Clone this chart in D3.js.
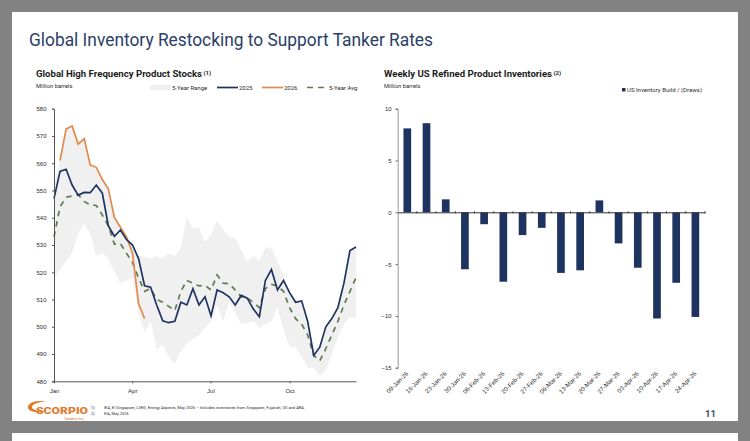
<!DOCTYPE html>
<html>
<head>
<meta charset="utf-8">
<script src="https://d3js.org/d3.v7.min.js"></script>
<style>
  html, body { margin: 0; padding: 0; background: #828282; }
  svg { display: block; font-family: Roboto, "Noto Sans", sans-serif; }
</style>
</head>
<body>
<svg id="slide" width="750" height="441"></svg>
<script>
// weekly stock series, index 0 = first week of Jan
const stocks2025 = [547, 557, 557.8, 552, 548.3, 549.3, 549.2, 552, 549, 537, 533.2, 535.5, 532, 530, 525, 515, 514.5, 508, 502.2, 501.5, 502, 509, 508, 514, 508, 511, 504, 513.5, 512.5, 511, 508, 511.5, 510.5, 506.5, 503.7, 517, 521, 513.5, 517, 512.5, 509, 509.5, 502, 489.5, 492.5, 500, 503, 507, 516, 528, 529.3];
const stocks2026 = [null, 561, 572.5, 573.7, 567, 569, 559.3, 558.5, 554, 550.5, 540, 536.5, 533, 527, 508.5, 503];
const stocksAvg = [533, 544, 547.5, 548, 548.5, 546, 544.7, 544.5, 541, 537, 530.3, 530.5, 527, 523.5, 518, 513, 514, 510, 509, 507.5, 506, 513, 517, 516, 515, 515.2, 513.5, 519, 516, 515.8, 513.5, 511, 510.5, 509, 507, 514, 515.5, 515, 513, 507, 503, 501, 497, 489.5, 487.5, 492, 497, 502, 508, 513, 518];
const rangeLow = [518, 521, 524, 527, 534, 538, 534, 526, 527, 525, 520, 516, 517, 518, 505, 498, 502, 491.6, 493.5, 489, 486.5, 491, 494, 495.5, 497, 499.5, 502, 508, 502, 509, 505, 501, 501.5, 502, 499.5, 501, 502, 507, 499, 492.7, 492.5, 489, 485, 485, 482, 484, 490, 496, 501, 503.5, 503];
const rangeHigh = [552, 561, 572, 573.5, 567, 569, 559, 558, 554, 550, 540, 536, 533, 530, 526, 525.5, 525, 526, 525, 527, 526, 529, 540, 536, 536.5, 531, 534, 539, 535.5, 533, 532.5, 528, 524, 526, 524, 529, 529, 524, 519, 513, 510, 509.5, 503, 492, 493, 500, 503, 507, 516, 528, 529.5];
const monthLabels = ['Jan', 'Apr', 'Jul', 'Oct'];
const monthWeeks = [0, 12.95, 25.9, 39];
const stockTicks = [480, 490, 500, 510, 520, 530, 540, 550, 560, 570, 580];

const weekDates = ['09-Jan-26', '16-Jan-26', '23-Jan-26', '30-Jan-26', '06-Feb-26', '13-Feb-26', '20-Feb-26', '27-Feb-26', '06-Mar-26', '13-Mar-26', '20-Mar-26', '27-Mar-26', '03-Apr-26', '10-Apr-26', '17-Apr-26', '24-Apr-26'];
const usBuilds = [8.1, 8.6, 1.25, -5.5, -1.15, -6.7, -2.2, -1.5, -5.85, -5.6, 1.15, -3.0, -5.35, -10.25, -6.8, -10.1];
const buildTicks = [-15, -10, -5, 0, 5, 10];

const navy = '#1f3361', orange = '#e08a4f', green = '#5f7a4f', band = '#f0f0f1', ink = '#2b2b2b', axisGrey = '#555';

const svg = d3.select('#slide');

// slide panels
svg.append('rect').attr('x', 12).attr('y', 12).attr('width', 726).attr('height', 409).attr('fill', '#fff');
svg.append('rect').attr('x', 12).attr('y', 433).attr('width', 726).attr('height', 8).attr('fill', '#fff');

svg.append('text').attr('x', 29).attr('y', 46).attr('font-size', 19).attr('fill', '#2a4068')
   .attr('textLength', 404).attr('lengthAdjust', 'spacingAndGlyphs')
   .text('Global Inventory Restocking to Support Tanker Rates');

function heading(x, label, note, width) {
    const t = svg.append('text').attr('x', x).attr('y', 77).attr('font-size', 9.3).attr('font-weight', 700).attr('fill', '#1c1c1c').text(label);
    t.attr('textLength', width).attr('lengthAdjust', 'spacingAndGlyphs');
    svg.append('text').attr('x', x + width + 1.5).attr('y', 74.5).attr('font-size', 6).attr('font-weight', 700).attr('fill', '#1c1c1c').text(note);
}
heading(36, 'Global High Frequency Product Stocks', '(1)', 166);
heading(384, 'Weekly US Refined Product Inventories', '(2)', 168);
svg.append('text').attr('x', 36).attr('y', 87.5).attr('font-size', 5.8).attr('fill', ink).text('Million barrels');
svg.append('text').attr('x', 384).attr('y', 87.5).attr('font-size', 5.8).attr('fill', ink).text('Million barrels');

// left chart
const xWeek = d3.scaleLinear().domain([0, 50]).range([54, 356]);
const yStock = d3.scaleLinear().domain([480, 580]).range([381.3, 108.7]);

svg.append('path')
   .datum(rangeLow.map((d, i) => [i, d, rangeHigh[i]]))
   .attr('fill', band)
   .attr('d', d3.area().x(d => xWeek(d[0])).y0(d => yStock(d[1])).y1(d => yStock(d[2])));

const stockLine = d3.line().defined(d => d !== null).x((d, i) => xWeek(i)).y(d => yStock(d));
svg.append('path').datum(stocksAvg).attr('fill', 'none').attr('stroke', green).attr('stroke-width', 1.7).attr('stroke-dasharray', '5.5,5').attr('d', stockLine);
svg.append('path').datum(stocks2026).attr('fill', 'none').attr('stroke', orange).attr('stroke-width', 1.7).attr('d', stockLine);
svg.append('path').datum(stocks2025).attr('fill', 'none').attr('stroke', navy).attr('stroke-width', 1.7).attr('d', stockLine);

function styleAxis(g) {
    g.select('.domain').attr('stroke', axisGrey).attr('stroke-width', 1);
    g.selectAll('.tick line').attr('stroke', axisGrey);
    g.selectAll('.tick text').attr('fill', ink).attr('font-size', 6);
}

svg.append('g').attr('transform', `translate(54,0)`)
   .call(d3.axisLeft(yStock).tickValues(stockTicks).tickSize(2).tickSizeOuter(2).tickPadding(5.5))
   .call(styleAxis);
svg.append('g').attr('transform', `translate(0,381.3)`)
   .call(d3.axisBottom(xWeek).tickValues(monthWeeks).tickFormat((d, i) => monthLabels[i]).tickSize(2).tickSizeOuter(0).tickPadding(5.5))
   .call(styleAxis);

// left legend
const legendY = 87.5;
svg.append('rect').attr('x', 150).attr('y', legendY - 2.5).attr('width', 21).attr('height', 5).attr('fill', band);
svg.append('text').attr('x', 172).attr('y', legendY + 2).attr('font-size', 6).attr('fill', ink).text('5-Year Range');
[[217, 238, navy, null, '2025', 239], [262, 283, orange, null, '2026', 284], [307, 328, green, '6,5', '5-Year Avg', 329]].forEach(k => {
    svg.append('line').attr('x1', k[0]).attr('x2', k[1]).attr('y1', legendY).attr('y2', legendY)
       .attr('stroke', k[2]).attr('stroke-width', 1.7).attr('stroke-dasharray', k[3]);
    svg.append('text').attr('x', k[5]).attr('y', legendY + 2).attr('font-size', 6).attr('fill', ink).text(k[4]);
});

// right chart
const xDate = d3.scaleBand().domain(weekDates).range([397.7, 705]).paddingInner(0.6).paddingOuter(0.3);
const yBuild = d3.scaleLinear().domain([-15, 10]).range([367.7, 108.7]);

svg.append('g').selectAll('rect').data(usBuilds).enter().append('rect')
   .attr('x', (d, i) => xDate(weekDates[i]))
   .attr('y', d => yBuild(Math.max(d, 0)))
   .attr('width', xDate.bandwidth())
   .attr('height', d => Math.abs(yBuild(d) - yBuild(0)))
   .attr('fill', navy);

svg.append('g').attr('transform', `translate(397.7,0)`)
   .call(d3.axisLeft(yBuild).tickValues(buildTicks).tickSize(2).tickSizeOuter(2).tickPadding(4))
   .call(styleAxis)
   .call(g => g.select('.domain').attr('stroke', '#999'));

// zero line with ticks between the weeks, labels sit below the plot
const zeroAxis = svg.append('g').attr('transform', `translate(0,${yBuild(0)})`)
   .call(d3.axisBottom(xDate).tickSize(0).tickFormat(''))
   .call(styleAxis);
zeroAxis.select('.domain').attr('stroke', '#333');
zeroAxis.selectAll('.tick line').attr('y1', -1).attr('y2', 1).attr('stroke', '#333').attr('x1', xDate.step() / 2).attr('x2', xDate.step() / 2);

svg.append('g').selectAll('text').data(weekDates).enter().append('text')
   .attr('transform', d => `translate(${xDate(d) + xDate.bandwidth() / 2 + 1.5},374) rotate(-45)`)
   .attr('text-anchor', 'end').attr('font-size', 6.2).attr('font-family', '"Liberation Sans", sans-serif').attr('fill', ink)
   .text(d => d);

svg.append('rect').attr('x', 622).attr('y', 88).attr('width', 3.5).attr('height', 3.5).attr('fill', navy);
svg.append('text').attr('x', 627).attr('y', 92).attr('font-size', 6).attr('fill', ink)
   .attr('textLength', 75).attr('lengthAdjust', 'spacingAndGlyphs').text('US Inventory Build / (Draws)');

// footer
svg.append('text').attr('x', 705).attr('y', 416.5).attr('font-size', 9.5).attr('font-weight', 700).attr('fill', '#3a4a68').text('11');
svg.append('path').attr('d', 'M46,402 C36,399 27,403 28,408 C29,412 37,413 46,411 C38,411 32,410 32,407 C32,404 38,402 46,402 Z').attr('fill', '#e07b2e');
svg.append('text').attr('x', 36).attr('y', 413.5).attr('font-size', 9).attr('font-weight', 900).attr('fill', '#e07b2e')
   .attr('textLength', 52).attr('lengthAdjust', 'spacingAndGlyphs').text('SCORPIO');
svg.append('text').attr('x', 64).attr('y', 419.6).attr('font-size', 3.8).attr('fill', '#c8752f').text('Tankers Inc.');
svg.append('text').attr('x', 91).attr('y', 409).attr('font-size', 3.9).attr('fill', ink).text('1)');
svg.append('text').attr('x', 91).attr('y', 415).attr('font-size', 3.9).attr('fill', ink).text('2)');
svg.append('text').attr('x', 104).attr('y', 409).attr('font-size', 3.9).attr('fill', ink)
   .attr('textLength', 201).attr('lengthAdjust', 'spacingAndGlyphs').text('IEA, EI Singapore, LSEG, Energy Aspects, May 2026 – Includes inventories from Singapore, Fujairah, US and ARA.');
svg.append('text').attr('x', 104).attr('y', 415).attr('font-size', 3.9).attr('fill', ink).text('EIA, May 2026');
</script>
</body>
</html>
